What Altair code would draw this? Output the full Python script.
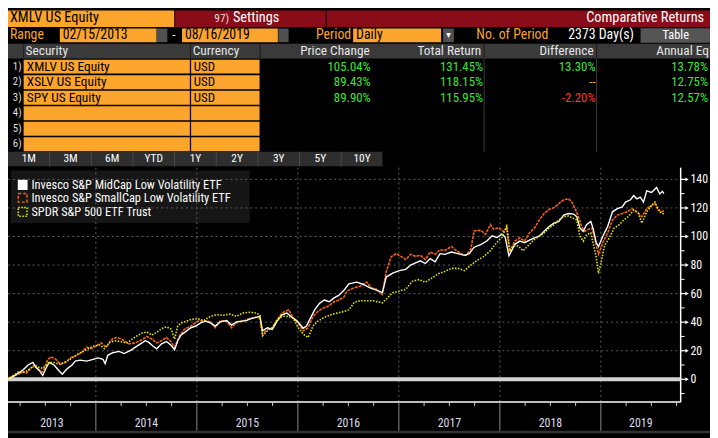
import altair as alt
import pandas as pd

# ---------------- data ----------------
XMLV_YR = [2013.125, 2013.168, 2013.232, 2013.280, 2013.329, 2013.377, 2013.409, 2013.441, 2013.474, 2013.506,
           2013.538, 2013.586, 2013.635, 2013.667, 2013.715, 2013.764, 2013.796, 2013.845, 2013.909, 2013.973,
           2014.022, 2014.070, 2014.092, 2014.118, 2014.167, 2014.231, 2014.279, 2014.344, 2014.392, 2014.441,
           2014.489, 2014.521, 2014.570, 2014.602, 2014.650, 2014.699, 2014.747, 2014.779, 2014.811, 2014.844,
           2014.876, 2014.941, 2014.989, 2015.037, 2015.086, 2015.134, 2015.182, 2015.231, 2015.295, 2015.344,
           2015.392, 2015.440, 2015.489, 2015.537, 2015.585, 2015.624, 2015.650, 2015.698, 2015.747, 2015.795,
           2015.843, 2015.892, 2015.940, 2015.988, 2016.021, 2016.053, 2016.085, 2016.117, 2016.166, 2016.214,
           2016.262, 2016.311, 2016.359, 2016.407, 2016.456, 2016.504, 2016.585, 2016.649, 2016.714, 2016.778,
           2016.836, 2016.875, 2016.939, 2017.004, 2017.068, 2017.117, 2017.165, 2017.213, 2017.262, 2017.310,
           2017.359, 2017.407, 2017.455, 2017.520, 2017.584, 2017.649, 2017.697, 2017.745, 2017.810, 2017.874,
           2017.923, 2017.971, 2018.019, 2018.052, 2018.090, 2018.148, 2018.197, 2018.245, 2018.293, 2018.342,
           2018.390, 2018.438, 2018.487, 2018.535, 2018.584, 2018.632, 2018.680, 2018.729, 2018.761, 2018.793,
           2018.825, 2018.858, 2018.900, 2018.922, 2018.954, 2018.977, 2019.019, 2019.067, 2019.115, 2019.164,
           2019.212, 2019.244, 2019.293, 2019.325, 2019.357, 2019.390, 2019.422, 2019.454, 2019.502, 2019.551,
           2019.583, 2019.609, 2019.624]
XMLV_VAL = [0, 1.4, 4.3, 6.6, 10, 11.8, 8.2, 6, 2.7, 7.7,
            11.8, 10, 6, 3.6, 7.3, 10, 12.7, 13.4, 12.7, 14,
            15, 14, 11, 16.8, 18.6, 19.5, 18, 20.2, 22.5, 24.8,
            27, 26, 23, 21.4, 24.8, 26.4, 23.6, 20.7, 27, 31,
            32.7, 36.1, 37.3, 39.5, 40.7, 39.5, 37.3, 40.2, 41.1, 38,
            40.2, 40.7, 41.1, 42.5, 43.4, 44.1, 33.9, 36.1, 35, 40.7,
            45.2, 46.4, 43.4, 41.1, 38.4, 35.7, 37.3, 41.8, 48.6, 53.2,
            55.5, 54.3, 57, 58.9, 62.3, 66.8, 68, 66.4, 64, 62.5,
            60.7, 71.6, 74.3, 76.1, 77, 80, 81.6, 83, 81.1, 84.5,
            82.3, 88, 87.5, 89.1, 88, 86.8, 88, 92.5, 94.3, 97,
            100.5, 99.3, 101.6, 99.8, 86.5, 94.5, 96.8, 95.7, 97.5, 99,
            100.2, 103.6, 107, 109.3, 110.5, 115, 116.1, 115.7, 113.9, 105.9,
            103.6, 108.2, 110.5, 105.9, 95.7, 93, 100.2, 107, 117.3, 119.5,
            120.7, 124.1, 125.7, 128.6, 126.4, 127.5, 124.1, 132, 130.9, 134.3,
            129.8, 131.6, 130]

XSLV_YR = [2013.125, 2013.168, 2013.232, 2013.280, 2013.313, 2013.361, 2013.393, 2013.441, 2013.474, 2013.522,
           2013.554, 2013.603, 2013.651, 2013.699, 2013.748, 2013.796, 2013.845, 2013.909, 2013.957, 2014.006,
           2014.054, 2014.102, 2014.167, 2014.215, 2014.264, 2014.328, 2014.392, 2014.457, 2014.505, 2014.554,
           2014.602, 2014.650, 2014.699, 2014.747, 2014.779, 2014.828, 2014.876, 2014.941, 2015.005, 2015.070,
           2015.134, 2015.182, 2015.231, 2015.295, 2015.344, 2015.392, 2015.456, 2015.521, 2015.585, 2015.624,
           2015.650, 2015.698, 2015.747, 2015.795, 2015.843, 2015.908, 2015.956, 2016.004, 2016.053, 2016.101,
           2016.150, 2016.198, 2016.246, 2016.295, 2016.359, 2016.407, 2016.456, 2016.488, 2016.553, 2016.617,
           2016.681, 2016.730, 2016.778, 2016.836, 2016.875, 2016.923, 2016.972, 2017.020, 2017.068, 2017.117,
           2017.165, 2017.213, 2017.262, 2017.310, 2017.359, 2017.407, 2017.455, 2017.520, 2017.568, 2017.616,
           2017.665, 2017.713, 2017.745, 2017.810, 2017.858, 2017.907, 2017.939, 2017.987, 2018.036, 2018.068,
           2018.096, 2018.148, 2018.197, 2018.245, 2018.293, 2018.342, 2018.390, 2018.438, 2018.487, 2018.535,
           2018.584, 2018.632, 2018.680, 2018.712, 2018.745, 2018.777, 2018.809, 2018.841, 2018.874, 2018.912,
           2018.945, 2018.977, 2019.019, 2019.067, 2019.115, 2019.164, 2019.212, 2019.261, 2019.309, 2019.357,
           2019.406, 2019.454, 2019.502, 2019.535, 2019.567, 2019.599, 2019.624]
XSLV_VAL = [0, 1.8, 3.6, 5, 4.3, 8.2, 8.9, 6.6, 5, 13.4,
            15.7, 14, 10.5, 11.8, 15, 16.4, 18, 22.5, 21.4, 23.6,
            25.5, 22.5, 28.6, 29.3, 27.7, 24.8, 25.5, 27.7, 30, 28.2,
            25.5, 27, 29.3, 26, 22.5, 30.5, 35, 37.3, 40.7, 41.1,
            40.2, 36.1, 41.1, 40.7, 36.1, 39.5, 40.7, 42.5, 43.4, 42.5,
            31.6, 35, 36.1, 41.8, 46.4, 48.6, 43, 39.5, 33.9, 36.1,
            44.1, 47.5, 49.8, 50.9, 54.3, 55.5, 57.7, 61.8, 64, 65.2,
            68, 64, 63, 59.5, 75.5, 85.7, 88, 86.1, 83.9, 87.5,
            86.1, 86.8, 83.9, 89.1, 87.5, 90.7, 90.2, 93, 90.2, 88,
            86.8, 91.4, 103.9, 104.3, 101.6, 108.4, 105, 106.1, 103.4, 106.1,
            89, 96.8, 99.1, 96.8, 102.5, 105.9, 111.6, 116.1, 118.9, 120.2,
            123, 125.7, 126.4, 124.1, 119.5, 113.9, 107, 103.6, 104.8, 105.9,
            96.8, 87.7, 95.7, 102.5, 111.6, 115, 116.1, 117.3, 119.5, 117.3,
            113.9, 119.5, 121.8, 123, 118.4, 117.3, 118]

SPY_YR = [2013.125, 2013.168, 2013.232, 2013.297, 2013.345, 2013.393, 2013.441, 2013.474, 2013.538, 2013.586,
          2013.635, 2013.683, 2013.732, 2013.780, 2013.828, 2013.877, 2013.925, 2013.973, 2014.038, 2014.086,
          2014.135, 2014.199, 2014.264, 2014.312, 2014.360, 2014.409, 2014.457, 2014.505, 2014.554, 2014.602,
          2014.650, 2014.699, 2014.747, 2014.779, 2014.811, 2014.844, 2014.876, 2014.941, 2015.005, 2015.070,
          2015.134, 2015.199, 2015.263, 2015.328, 2015.392, 2015.456, 2015.521, 2015.585, 2015.624, 2015.650,
          2015.698, 2015.747, 2015.795, 2015.843, 2015.908, 2015.956, 2016.004, 2016.053, 2016.101, 2016.150,
          2016.198, 2016.262, 2016.327, 2016.391, 2016.456, 2016.504, 2016.560, 2016.617, 2016.746, 2016.836,
          2016.875, 2016.939, 2017.004, 2017.068, 2017.133, 2017.197, 2017.262, 2017.326, 2017.391, 2017.455,
          2017.520, 2017.584, 2017.649, 2017.713, 2017.778, 2017.842, 2017.907, 2017.971, 2018.019, 2018.068,
          2018.100, 2018.132, 2018.181, 2018.229, 2018.293, 2018.342, 2018.390, 2018.438, 2018.487, 2018.535,
          2018.584, 2018.632, 2018.680, 2018.729, 2018.761, 2018.793, 2018.825, 2018.858, 2018.900, 2018.922,
          2018.954, 2018.977, 2019.003, 2019.035, 2019.083, 2019.132, 2019.180, 2019.228, 2019.277, 2019.325,
          2019.373, 2019.406, 2019.454, 2019.502, 2019.535, 2019.567, 2019.599, 2019.624]
SPY_VAL = [0, 2, 5, 5, 7.3, 10, 8.2, 7.7, 11.8, 11.8,
           10.5, 11.8, 13.4, 15.7, 18, 19.5, 21.4, 23.2, 24, 21.4,
           26, 27, 26, 25.5, 28.2, 30.5, 32.3, 33.2, 31, 32.7,
           35.5, 36.8, 35, 28.2, 37.3, 39.5, 40.2, 41.8, 42.5, 41.1,
           44.1, 45.2, 44.8, 45.7, 44.1, 46.4, 47, 46.4, 45.2, 30.5,
           33.9, 36.1, 41.8, 44.1, 44.1, 42.5, 36.1, 31.6, 29.3, 37.3,
           40.7, 43.4, 45.2, 46.4, 47.5, 48.6, 54, 55, 55, 53.5,
           56.1, 60.7, 61.8, 63, 68.6, 69.8, 68, 70.9, 73.9, 75.5,
           77.7, 77.7, 76.1, 80, 83.4, 86.1, 90.2, 95.9, 99.3, 107.3,
           90, 93.4, 93.4, 90, 94.5, 98, 100.2, 102.5, 105.9, 108.2,
           111.6, 113.9, 114.3, 112.7, 111.6, 100.2, 96.8, 101.4, 102.5, 95.7,
           85.5, 74.1, 82, 93.4, 99.1, 105.9, 108.2, 111.6, 114.3, 118.4,
           116.1, 109.3, 117.3, 121.8, 124.1, 119.5, 116.1, 116]

SERIES_NAMES = ["Invesco S&P MidCap Low Volatility ETF",
                "Invesco S&P SmallCap Low Volatility ETF",
                "SPDR S&P 500 ETF Trust"]
SECURITIES = ["XMLV US Equity", "XSLV US Equity", "SPY US Equity"]
CURRENCIES = ["USD", "USD", "USD"]
PRICE_CHANGE = ["105.04%", "89.43%", "89.90%"]
TOTAL_RETURN = ["131.45%", "118.15%", "115.95%"]
DIFFERENCE = ["13.30%", "--", "-2.20%"]
ANNUAL_EQ = ["13.78%", "12.75%", "12.57%"]
PERIOD_BUTTONS = ["1M", "3M", "6M", "YTD", "1Y", "2Y", "3Y", "5Y", "10Y"]
YEARS = [2013, 2014, 2015, 2016, 2017, 2018, 2019]
Y_TICKS = [0, 20, 40, 60, 80, 100, 120, 140]
Y_MINOR = [-10, 10, 30, 50, 70, 90, 110, 130]
X_DOM = [2013.13, 2019.79]
Y_DOM = [-15.97, 148.2]

# ---------------- styling / layout ----------------
FONT = "Roboto Condensed, DejaVu Sans Condensed, sans-serif"
W, H = 710, 430
SX, SY = W / 718.0, H / 438.0


def px(x):
    return round(x * SX, 2)


def py(y):
    return round(y * SY, 2)


ORANGE = "#fca52c"
ORANGE_TXT = "#f7a52a"
RED_BAR = "#8a0c18"
GREEN = "#3fe23f"
NEG = "#ff3535"
WHITE = "#ffffff"
BLACK = "#000000"
C_XMLV = "#ffffff"
C_XSLV = "#f5650f"
C_SPY = "#e8e800"

rect_rows = []


def R(x, x2, y, y2, fill):
    rect_rows.append(dict(x=px(x), x2=px(x2), y=py(y), y2=py(y2), fill=fill))


# header bar
R(0, 170, 0, 17, ORANGE)
R(171, 325, 0, 17, RED_BAR)
R(326, 718, 0, 17, RED_BAR)
# range row
R(53, 152, 18.7, 32.7, ORANGE)
R(152, 163, 18.7, 32.7, "#505050")
R(178, 276, 18.7, 32.7, ORANGE)
R(276.5, 287, 18.7, 32.7, "#505050")
R(353, 443, 18.7, 32.7, ORANGE)
R(445, 456, 18.7, 32.7, "#505050")
R(647, 718, 18.3, 33.3, "#555555")
# table header
R(0, 718, 34.3, 49.5, "#3a3a3a")
for sx in [15.5, 186, 257.5, 486.5, 601.5]:
    R(sx, sx + 1, 34.3, 49.5, "#1c1c1c")
for sx in [486.5, 601.5]:
    R(sx, sx + 1, 49.5, 145.5, "#3c3c3c")
# table rows
for i in range(6):
    y0 = 50.7 + 16 * i
    R(16, 186, y0, y0 + 14.4, ORANGE)
    R(187.3, 257.3, y0, y0 + 14.4, ORANGE)
# period buttons
R(0, 383, 145.7, 160.5, "#2e2e2e")
for i in range(1, 9):
    R(42.6 * i - 0.5, 42.6 * i + 0.5, 145.7, 160.5, "#4a4a4a")
# bottom strip
R(0, 718, 433, 435.5, "#333333")
# legend background
R(3, 247, 165, 219, "#161616")

text_left, text_right, text_center = [], [], []


def T(lst, t, x, y, c, s):
    lst.append(dict(t=t, x=px(x), y=py(y), c=c, s=s))


T(text_left, "XMLV US Equity", 2, 8, BLACK, 14.5)
T(text_left, "97)", 211, 8.5, "#e8d8d8", 11.5)
T(text_left, "Settings", 230, 8, WHITE, 14.5)
T(text_right, "Comparative Returns", 712, 8, WHITE, 14.5)
T(text_left, "Range", 2, 25.7, ORANGE_TXT, 14)
T(text_left, "02/15/2013", 56, 25.7, BLACK, 14)
T(text_left, "-", 168, 25.7, WHITE, 13)
T(text_left, "08/16/2019", 181, 25.7, BLACK, 14)
T(text_left, "Period", 315, 25.7, ORANGE_TXT, 14)
T(text_left, "Daily", 356, 25.7, BLACK, 14)
T(text_center, "\u25be", 450.5, 25.7, WHITE, 10)
T(text_left, "No. of Period", 479, 25.7, ORANGE_TXT, 14)
T(text_left, "2373 Day(s)", 573, 25.7, WHITE, 14)
T(text_center, "Table", 683, 25.7, WHITE, 12.5)
HDR = "#e6e6e6"
T(text_left, "Security", 18, 42.2, HDR, 13.5)
T(text_left, "Currency", 189, 42.2, HDR, 13.5)
T(text_right, "Price Change", 370, 42.2, HDR, 13.5)
T(text_right, "Total Return", 484, 42.2, HDR, 13.5)
T(text_right, "Difference", 599, 42.2, HDR, 13.5)
T(text_left, "Annual Eq", 663, 42.2, HDR, 13.5)
for i in range(6):
    T(text_right, f"{i + 1})", 14, 58 + 16 * i, "#dddddd", 11)
diff_colors = [GREEN, ORANGE_TXT, NEG]
for i in range(3):
    yc = 58 + 16 * i
    T(text_left, SECURITIES[i], 19.3, yc, BLACK, 13.5)
    T(text_left, CURRENCIES[i], 190, yc, BLACK, 13)
    T(text_right, PRICE_CHANGE[i], 371, yc, GREEN, 13)
    T(text_right, TOTAL_RETURN[i], 486, yc, GREEN, 13)
    T(text_right, DIFFERENCE[i], 601, yc, diff_colors[i], 13)
    T(text_right, ANNUAL_EQ[i], 716, yc, GREEN, 13)
for i, b in enumerate(PERIOD_BUTTONS):
    T(text_center, b, 42.6 * i + 21.3, 153.2, WHITE, 11.5)
for i, name in enumerate(SERIES_NAMES):
    T(text_left, name, 24, [180, 193.5, 207.5][i], WHITE, 12.5)


def rect_layer(rows):
    df = pd.DataFrame(rows)
    return alt.Chart(df).mark_rect().encode(
        x=alt.X("x:Q", scale=None, axis=None), x2="x2:Q",
        y=alt.Y("y:Q", scale=None, axis=None), y2="y2:Q",
        fill=alt.Fill("fill:N", scale=None, legend=None))


def text_layer(rows, align):
    df = pd.DataFrame(rows)
    return alt.Chart(df).mark_text(align=align, baseline="middle", font=FONT).encode(
        x=alt.X("x:Q", scale=None, axis=None), y=alt.Y("y:Q", scale=None, axis=None),
        text="t:N", color=alt.Color("c:N", scale=None, legend=None),
        size=alt.Size("s:Q", scale=None, legend=None))


xs = alt.Scale(domain=X_DOM, range=[0, px(688)])
ys = alt.Scale(domain=Y_DOM, range=[py(403.5), py(162)])
XR = px(688)

layers = [rect_layer(rect_rows), text_layer(text_left, "left"),
          text_layer(text_right, "right"), text_layer(text_center, "center")]

# grid
layers.append(alt.Chart(pd.DataFrame({"v": Y_TICKS[1:]})).mark_rule(
    color="#5e5e5e", strokeDash=[2, 3], strokeWidth=1).encode(
    y=alt.Y("v:Q", scale=ys, axis=None), x=alt.value(0), x2=alt.value(XR)))
layers.append(alt.Chart(pd.DataFrame({"yr": YEARS[1:]})).mark_rule(
    color="#5e5e5e", strokeDash=[2, 3], strokeWidth=1).encode(
    x=alt.X("yr:Q", scale=xs, axis=None), y=alt.value(py(162)), y2=alt.value(py(403))))
# zero line
layers.append(alt.Chart(pd.DataFrame({"v": [0]})).mark_rule(
    color="#d2d2d2", strokeWidth=4).encode(
    y=alt.Y("v:Q", scale=ys, axis=None), x=alt.value(0), x2=alt.value(XR)))


def series(yrs, vals, color, width, dash=None):
    df = pd.DataFrame({"yr": yrs, "v": vals})
    if dash:
        m = alt.Chart(df).mark_line(color=color, strokeWidth=width, strokeDash=dash)
    else:
        m = alt.Chart(df).mark_line(color=color, strokeWidth=width)
    return m.encode(x=alt.X("yr:Q", scale=xs, axis=None), y=alt.Y("v:Q", scale=ys, axis=None))


layers.append(series(XSLV_YR, XSLV_VAL, C_XSLV, 1.6, [3, 1]))
layers.append(series(XMLV_YR, XMLV_VAL, C_XMLV, 1.4))
layers.append(series(SPY_YR, SPY_VAL, C_SPY, 1.6, [1.5, 1.5]))

# axes frame
layers.append(alt.Chart(pd.DataFrame({"v": [0]})).mark_rule(color=WHITE, strokeWidth=1.5).encode(
    x=alt.value(0), x2=alt.value(XR), y=alt.value(py(403.5))))
layers.append(alt.Chart(pd.DataFrame({"v": [0]})).mark_rule(color=WHITE, strokeWidth=1.5).encode(
    x=alt.value(XR), y=alt.value(py(162)), y2=alt.value(py(403.5))))
# x ticks
quarters = [y + q for y in YEARS for q in (0.25, 0.5, 0.75) if X_DOM[0] < y + q < X_DOM[1]]
layers.append(alt.Chart(pd.DataFrame({"yr": quarters})).mark_rule(color="#cfcfcf", strokeWidth=1).encode(
    x=alt.X("yr:Q", scale=xs, axis=None), y=alt.value(py(404)), y2=alt.value(py(407.5))))
layers.append(alt.Chart(pd.DataFrame({"yr": YEARS[1:]})).mark_rule(color="#8a8a8a", strokeWidth=1).encode(
    x=alt.X("yr:Q", scale=xs, axis=None), y=alt.value(py(404)), y2=alt.value(py(433))))
label_pos = [(max(y, X_DOM[0]) + min(y + 1, X_DOM[1])) / 2 for y in YEARS]
layers.append(alt.Chart(pd.DataFrame({"yr": label_pos, "lab": [str(y) for y in YEARS]})).mark_text(
    font=FONT, fontSize=12, color="#dcdcec", baseline="middle", align="center").encode(
    x=alt.X("yr:Q", scale=xs, axis=None), y=alt.value(py(425)), text="lab:N"))
# y ticks
layers.append(alt.Chart(pd.DataFrame({"v": Y_MINOR})).mark_rule(color=WHITE, strokeWidth=1).encode(
    y=alt.Y("v:Q", scale=ys, axis=None), x=alt.value(XR), x2=alt.value(px(692))))
layers.append(alt.Chart(pd.DataFrame({"v": Y_TICKS})).mark_rule(color=WHITE, strokeWidth=1.2).encode(
    y=alt.Y("v:Q", scale=ys, axis=None), x=alt.value(XR), x2=alt.value(px(693))))
layers.append(alt.Chart(pd.DataFrame({"v": Y_TICKS})).mark_point(
    shape="triangle-right", filled=True, color=WHITE, size=16, opacity=1).encode(
    y=alt.Y("v:Q", scale=ys, axis=None), x=alt.value(px(694.5))))
layers.append(alt.Chart(pd.DataFrame({"v": Y_TICKS})).mark_text(
    font=FONT, fontSize=12, color=WHITE, align="left", baseline="middle").encode(
    y=alt.Y("v:Q", scale=ys, axis=None), x=alt.value(px(698)), text="v:Q"))

# legend swatches
sw = pd.DataFrame({"k": [0]})
layers.append(alt.Chart(sw).mark_rect(color=WHITE).encode(
    x=alt.value(px(10)), x2=alt.value(px(20)), y=alt.value(py(174.5)), y2=alt.value(py(185))))
layers.append(alt.Chart(sw).mark_rect(fillOpacity=0, stroke=C_XSLV, strokeWidth=1.5, strokeDash=[3, 2]).encode(
    x=alt.value(px(10.5)), x2=alt.value(px(19.5)), y=alt.value(py(188.5)), y2=alt.value(py(197.5))))
layers.append(alt.Chart(sw).mark_rect(fillOpacity=0, stroke=C_SPY, strokeWidth=1.5, strokeDash=[1.5, 1.5]).encode(
    x=alt.value(px(10.5)), x2=alt.value(px(19.5)), y=alt.value(py(203)), y2=alt.value(py(212))))

chart = alt.layer(*layers).resolve_scale(
    x="independent", y="independent", color="independent", fill="independent", size="independent"
).properties(
    width=W, height=H, background=BLACK, padding=0,
    autosize=alt.AutoSizeParams(type="none")
).configure_view(strokeWidth=0)

chart.save("out.html", embed_options={"renderer": "svg", "actions": False})
